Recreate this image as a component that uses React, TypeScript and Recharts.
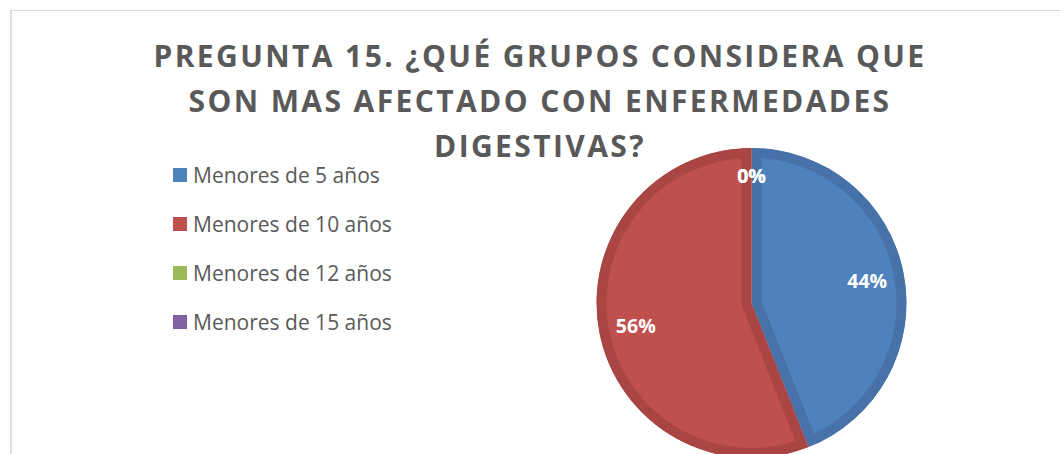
import React from "react";
import { PieChart, Pie, Cell, Legend } from "recharts";

const categories = ["Menores de 5 años", "Menores de 10 años", "Menores de 12 años", "Menores de 15 años"];
const values = [44, 56, 0, 0];
const fills = ["#4f81bd", "#c0504d", "#9bbb59", "#8064a2"];
const bands = ["#4672a9", "#a94643", "#88a54e", "#70588f"];
const titleLines = ["PREGUNTA 15. ¿QUÉ GRUPOS CONSIDERA QUE", "SON MAS AFECTADO CON ENFERMEDADES", "DIGESTIVAS?"];

const data = categories.map((name, i) => ({ name, value: values[i], fill: fills[i] }));

const RAD = Math.PI / 180;

const sectorPath = (cx: number, cy: number, r: number, a0: number, a1: number) => {
  const x0 = cx + r * Math.cos(-a0 * RAD);
  const y0 = cy + r * Math.sin(-a0 * RAD);
  const x1 = cx + r * Math.cos(-a1 * RAD);
  const y1 = cy + r * Math.sin(-a1 * RAD);
  const large = Math.abs(a1 - a0) > 180 ? 1 : 0;
  const sweep = a0 > a1 ? 1 : 0;
  return `M${cx},${cy} L${x0},${y0} A${r},${r} 0 ${large} ${sweep} ${x1},${y1} Z`;
};

const SectorShape = (props: any) => {
  const { cx, cy, outerRadius, startAngle, endAngle, index } = props;
  if (Math.abs(endAngle - startAngle) < 0.01) return <g />;
  const d = sectorPath(cx, cy, outerRadius, startAngle, endAngle);
  const id = `clip-sector-${index}`;
  return (
    <g>
      <defs>
        <clipPath id={id}>
          <path d={d} />
        </clipPath>
      </defs>
      <path d={d} fill={fills[index]} stroke={bands[index]} strokeWidth={20} clipPath={`url(#${id})`} />
    </g>
  );
};

const renderLabel = (props: any) => {
  const { cx, cy, midAngle, outerRadius, percent } = props;
  const r = outerRadius * (percent === 0 ? 0.82 : 0.76);
  const x = cx + r * Math.cos(-midAngle * RAD);
  const y = cy + r * Math.sin(-midAngle * RAD);
  return (
    <text x={x} y={y} fill="#ffffff" textAnchor="middle" dominantBaseline="central"
      style={{ fontFamily: "'Open Sans', sans-serif", fontWeight: 700, fontSize: 19.5 }}>
      {`${Math.round(percent * 100)}%`}
    </text>
  );
};

const LegendContent = (props: any) => {
  const payload = [...(props.payload || [])].sort(
    (a: any, b: any) => categories.indexOf(a.value) - categories.indexOf(b.value)
  );
  return (
    <div style={{ fontFamily: "'Open Sans', sans-serif", fontSize: 21, color: "#595959", width: 0, overflow: "visible" }}>
      {payload.map((p: any, i: number) => (
        <div key={i} style={{ height: 49, display: "flex", alignItems: "center", whiteSpace: "nowrap" }}>
          <span style={{ display: "inline-block", flex: "0 0 14px", width: 14, height: 14, background: p.color, marginRight: 6 }} />
          <span>{p.value}</span>
        </div>
      ))}
    </div>
  );
};

export default function App() {
  return (
    <div style={{ position: "absolute", left: 0, top: 0, width: 1060, height: 454, overflow: "hidden", background: "#fff" }}>
      <div style={{ position: "absolute", left: 10, top: 10, width: 1200, height: 600, borderTop: "1px solid #d9d9d9", borderLeft: "2px solid #dedede" }} />
      <div style={{ position: "absolute", left: 0, top: 0 }}>
        <PieChart width={1060} height={454} margin={{ top: 0, right: 0, bottom: 0, left: 0 }}>
          <Pie
            data={data}
            dataKey="value"
            nameKey="name"
            cx={751.5}
            cy={303}
            outerRadius={155}
            startAngle={90}
            endAngle={-270}
            stroke="none"
            shape={SectorShape}
            label={renderLabel}
            labelLine={false}
            isAnimationActive={false}
          >
            {data.map((d, i) => (
              <Cell key={i} fill={d.fill} />
            ))}
          </Pie>
          <Legend
            layout="vertical"
            align="left"
            verticalAlign="top"
            width={0}
            itemSorter={(item: any) => categories.indexOf(item.value)}
            content={<LegendContent />}
            wrapperStyle={{ left: 173, top: 150, width: 0, overflow: "visible" }}
          />
        </PieChart>
      </div>
      <div style={{ position: "absolute", left: 40, top: 33, width: 1000, textAlign: "center", fontFamily: "'Open Sans', sans-serif", fontWeight: 700, fontSize: 30, lineHeight: "45px", letterSpacing: 2.4, color: "#595959", pointerEvents: "none" }}>
        {titleLines.map((t, i) => (
          <div key={i} style={{ whiteSpace: "nowrap" }}>{t}</div>
        ))}
      </div>
    </div>
  );
}
